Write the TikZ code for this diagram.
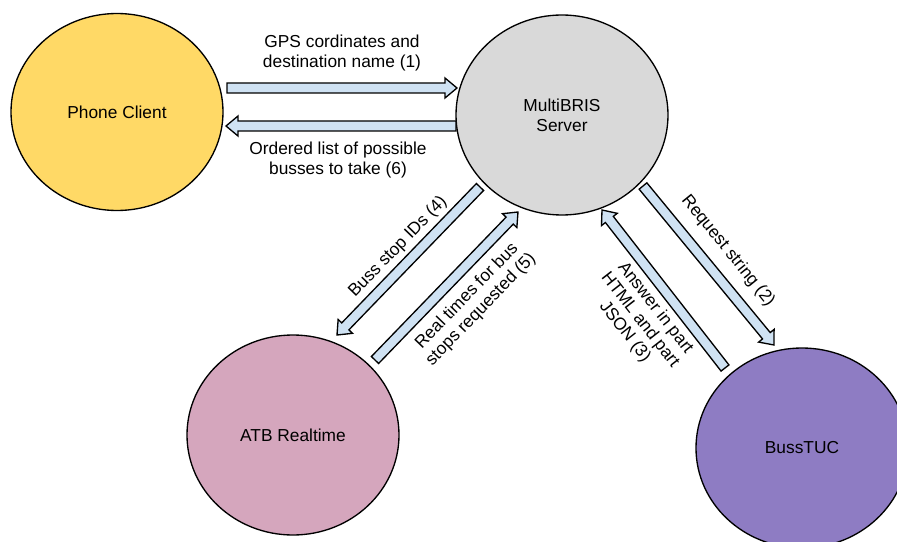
\documentclass[tikz,border=0pt]{standalone}
\usepackage{fontspec}
\setmainfont{Liberation Sans}
\usetikzlibrary{shapes.geometric,calc}
\definecolor{cyellow}{HTML}{FFD966}
\definecolor{cgray}{HTML}{D9D9D9}
\definecolor{cpink}{HTML}{D5A6BD}
\definecolor{cpurple}{HTML}{8E7CC3}
\definecolor{carrow}{HTML}{CFE2F3}
\tikzset{
 ent/.style={ellipse, draw=black, line width=1pt, inner sep=0pt, minimum width=159pt, minimum height=150pt, align=center, font=\fontsize{13}{15}\selectfont},
 blockarr/.style={draw=black, line width=1pt, fill=carrow, line join=miter},
 lbl/.style={align=center, font=\fontsize{13}{14.5}\selectfont, inner sep=0pt}
}
\newcommand\blockarrow[2]{%
 \coordinate (hb) at ($(#2)!9pt!(#1)$);
 \draw[blockarr] ($(#1)!3.75pt!-90:(#2)$) -- ($(hb)!3.75pt!90:(#1)$) -- ($(hb)!7.5pt!90:(#1)$) -- (#2) -- ($(hb)!7.5pt!-90:(#1)$) -- ($(hb)!3.75pt!-90:(#1)$) -- ($(#1)!3.75pt!90:(#2)$) -- cycle;}
\begin{document}
\begin{tikzpicture}[x=0.75pt,y=-0.75pt]
\clip (0,0) rectangle (897,542);
\node[ent, fill=cyellow, minimum height=147.75pt] (phone) at (117,112) {Phone Client};
\node[ent, fill=cgray] (server) at (562,115) {MultiBRIS\\Server};
\node[ent, fill=cpink] (atb) at (293,435) {ATB Realtime};
\node[ent, fill=cpurple] (tuc) at (802,448) {BussTUC};

\coordinate (a1s) at (227,88);  \coordinate (a1e) at (457,88);
\coordinate (a6s) at (456,126); \coordinate (a6e) at (226,126);
\coordinate (a4s) at (480,187); \coordinate (a4e) at (337,335);
\coordinate (a5s) at (375,360); \coordinate (a5e) at (518,212);
\coordinate (a2s) at (643,186); \coordinate (a2e) at (774,345);
\coordinate (a3s) at (725,368); \coordinate (a3e) at (602,210);

\blockarrow{a1s}{a1e}
\blockarrow{a6s}{a6e}
\blockarrow{a4s}{a4e}
\blockarrow{a5s}{a5e}
\blockarrow{a2s}{a2e}
\blockarrow{a3s}{a3e}

\node[lbl] (l1) at (342,53) {GPS cordinates and\\destination name (1)};
\node[lbl] (l6) at (338,160) {Ordered list of possible\\busses to take (6)};
\node[lbl, rotate=46] (l4) at (398,247) {Buss stop IDs (4)};
\node[lbl, rotate=46] (l5) at (474,303) {Real times for bus\\stops requested (5)};
\node[lbl, rotate=-51] (l2) at (728,251) {Request string (2)};
\node[lbl, rotate=-52] (l3) at (640,320) {Answer in part\\HTML and part\\JSON (3)};
\end{tikzpicture}
\end{document}
